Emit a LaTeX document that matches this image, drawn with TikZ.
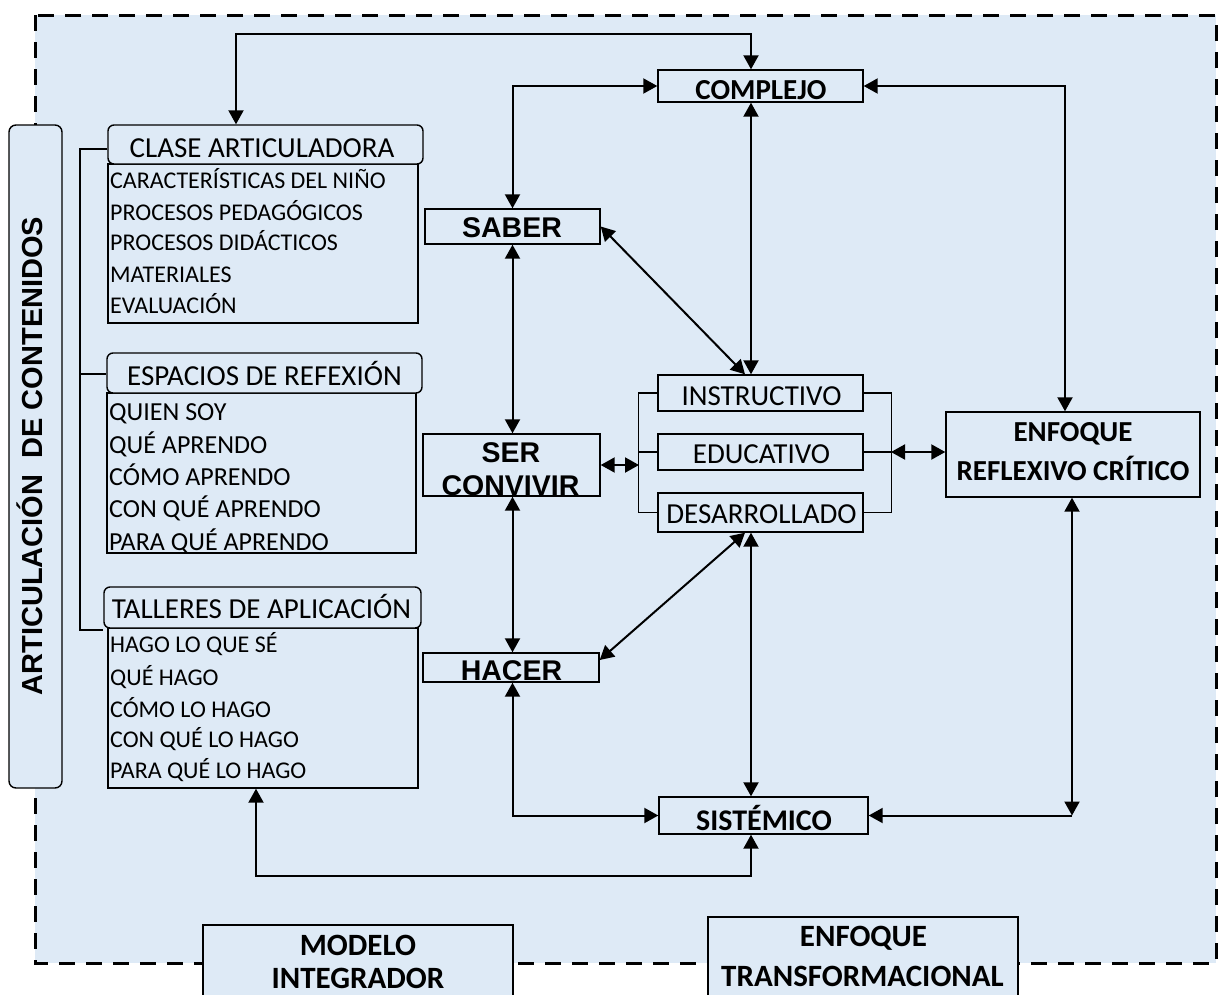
\documentclass[tikz,border=0pt]{standalone}
\usepackage{fontspec}
\setmainfont{Carlito}
\newfontfamily\arialf{Liberation Sans}
\usetikzlibrary{arrows.meta}
\definecolor{fondo}{RGB}{222,234,246}

\begin{document}
\begin{tikzpicture}[x=1pt, y=-1pt,
	>={Triangle[length=14pt,width=15pt]},
	caja/.style={draw, line width=1.4pt, fill=fondo, inner sep=0pt},
	cab/.style={caja, rounded corners=6pt},
	flecha/.style={<->, line width=2pt},
	linea/.style={line width=1.4pt},
	titulo/.style={anchor=base, inner sep=0pt, font={\fontsize{29}{34}\selectfont}},
	negrita/.style={anchor=base, inner sep=0pt, font={\bfseries\fontsize{29}{34}\selectfont}},
	grande/.style={anchor=base, inner sep=0pt, font={\bfseries\fontsize{31}{36}\selectfont}},
	arial/.style={anchor=base, inner sep=0pt, font={\arialf\bfseries\fontsize{28.5}{34}\selectfont}},
	lista/.style={anchor=base west, inner sep=0pt, font={\fontsize{24}{28}\selectfont}}]

	% 1. Fondo y borde punteado
	\useasboundingbox (0,0) rectangle (1218,994);
	\clip (0,0) rectangle (1218,994);
	\fill[fondo] (35,15) rectangle (1216,963);
	\draw[line width=3pt, dash pattern=on 16pt off 11pt] (35,15) rectangle (1216,963);

	% 2. Columna izquierda
	\node[caja, rounded corners=7pt, minimum width=53pt, minimum height=663pt] (ART) at (35.5,456.5) {};
	\node[anchor=base, rotate=90, inner sep=0pt, font={\arialf\bfseries\fontsize{29}{34}\selectfont}] (ARTt) at (42,456) {ARTICULACIÓN\ \ DE CONTENIDOS};

	% 3. Listas (clase, espacios, talleres)
	\node[caja, minimum width=310pt, minimum height=159pt] (CA) at (263,243.5) {};
	\node[cab, minimum width=315pt, minimum height=39pt] (CAh) at (265.5,144.5) {};
	\node[titulo] (CAt) at (262,157) {CLASE ARTICULADORA};
	\node[lista] (ca1) at (110,188) {CARACTERÍSTICAS DEL NIÑO};
	\node[lista] (ca2) at (110,220) {PROCESOS PEDAGÓGICOS};
	\node[lista] (ca3) at (110,250) {PROCESOS DIDÁCTICOS};
	\node[lista] (ca4) at (110,282) {MATERIALES};
	\node[lista] (ca5) at (110,313) {EVALUACIÓN};

	\node[caja, minimum width=309pt, minimum height=160pt] (ER) at (261.5,473) {};
	\node[cab, minimum width=315pt, minimum height=40pt] (ERh) at (264.5,373) {};
	\node[titulo] (ERt) at (264.5,385) {ESPACIOS DE REFEXIÓN};
	\node[lista, font={\fontsize{26}{30}\selectfont}] (er1) at (109,420) {QUIEN SOY};
	\node[lista, font={\fontsize{26}{30}\selectfont}] (er2) at (109,453) {QUÉ APRENDO};
	\node[lista, font={\fontsize{26}{30}\selectfont}] (er3) at (109,485) {CÓMO APRENDO};
	\node[lista, font={\fontsize{26}{30}\selectfont}] (er4) at (109,517) {CON QUÉ APRENDO};
	\node[lista, font={\fontsize{26}{30}\selectfont}] (er5) at (109,550) {PARA QUÉ APRENDO};

	\node[caja, minimum width=310pt, minimum height=160pt] (TA) at (263,708) {};
	\node[cab, minimum width=317pt, minimum height=41pt] (TAh) at (262.5,607.5) {};
	\node[titulo] (TAt) at (261.5,618) {TALLERES DE APLICACIÓN};
	\node[lista] (ta1) at (110,652) {HAGO LO QUE SÉ};
	\node[lista] (ta2) at (110,685) {QUÉ HAGO};
	\node[lista] (ta3) at (110,717) {CÓMO LO HAGO};
	\node[lista] (ta4) at (110,747) {CON QUÉ LO HAGO};
	\node[lista] (ta5) at (110,778) {PARA QUÉ LO HAGO};

	% llave de la izquierda
	\coordinate (b1) at (80,149);
	\coordinate (b2) at (80,374);
	\coordinate (b3) at (80,630);
	\draw[linea] (b1 -| CAh.west) -- (b1) -- (b3) -- (b3 -| TAh.west);
	\draw[linea] (b2) -- (b2 -| ERh.west);

	% 4. Saber, ser, hacer
	\node[caja, minimum width=175pt, minimum height=35pt] (SAB) at (512.5,226.5) {};
	\node[arial] (SABt) at (512,237) {SABER};
	\node[caja, minimum width=177pt, minimum height=62pt] (SER) at (511.5,465) {};
	\node[arial] (SERt1) at (511,462) {SER};
	\node[arial] (SERt2) at (510.5,495) {CONVIVIR};
	\node[caja, minimum width=176pt, minimum height=29pt] (HAC) at (511,667.5) {};
	\node[arial] (HACt) at (511.5,680) {HACER};

	% 5. Complejo, instructivo, educativo, desarrollado, sistemico
	\node[caja, minimum width=205pt, minimum height=32pt] (COM) at (760.5,86) {};
	\node[negrita] (COMt) at (761,99) {COMPLEJO};
	\node[caja, minimum width=205pt, minimum height=36pt] (INS) at (760.5,393) {};
	\node[titulo] (INSt) at (761.5,405) {INSTRUCTIVO};
	\node[caja, minimum width=205pt, minimum height=36pt] (EDU) at (760.5,452) {};
	\node[titulo] (EDUt) at (761.5,463) {EDUCATIVO};
	\node[caja, minimum width=205pt, minimum height=39pt] (DES) at (760.5,512.5) {};
	\node[titulo] (DESt) at (761.5,523) {DESARROLLADO};
	\node[caja, minimum width=209pt, minimum height=37pt] (SIS) at (763.5,815.5) {};
	\node[negrita, font={\bfseries\fontsize{30}{34}\selectfont}] (SISt) at (764,830) {SISTÉMICO};

	% llaves de los tres
	\draw[linea] (INS.west) -- ++(-19,0) |- (DES.west);
	\draw[linea] (EDU.west) -- ++(-19,0);
	\draw[linea] (INS.east) -- ++(28,0) |- (DES.east);
	\draw[linea] (EDU.east) -- ++(28,0);

	% 6. Enfoque reflexivo critico
	\node[caja, minimum width=254pt, minimum height=85pt] (ENF) at (1073,454.5) {};
	\node[negrita] (ENFt1) at (1073,441) {ENFOQUE};
	\node[negrita] (ENFt2) at (1073,480) {REFLEXIVO CRÍTICO};

	% 7. Cajas de abajo
	\node[caja, minimum width=310pt, minimum height=90pt] (MOD) at (358,970) {};
	\node[grande] (MODt1) at (358,955) {MODELO};
	\node[grande] (MODt2) at (358,988) {INTEGRADOR};
	\node[caja, minimum width=310pt, minimum height=98pt] (TRA) at (863,966) {};
	\node[grande] (TRAt1) at (863.5,946) {ENFOQUE};
	\node[grande] (TRAt2) at (862.5,986) {TRANSFORMACIONAL};

	% 8. Flechas
	\coordinate (c1) at (236,34);
	\coordinate (c2) at (751,34);
	\coordinate (c3) at (1065,86);
	\coordinate (c4) at (1072,815.5);
	\coordinate (c6) at (256,876);
	\coordinate (c7) at (751,876);
	\draw[flecha] (c1 |- CAh.north) -- (c1) -- (c2) -- (c2 |- COM.north);
	\draw[flecha] (COM.west) -| (SAB.north);
	\draw[flecha] (COM.east) -- (c3) -- (c3 |- ENF.north);
	\draw[flecha] (COM.south -| c2) -- (INS.north -| c2);
	\draw[flecha] (SAB.east) -- (INS.north -| 745,0);
	\draw[flecha] (SAB.south) -- (SAB.south |- SER.north);
	\draw[flecha] (SAB.south |- SER.south) -- (SAB.south |- HAC.north);
	\draw[flecha] (SER.east) -- (SER.east -| 639,0);
	\draw[flecha] (EDU.east -| 891,0) -- (EDU.east -| ENF.west);
	\draw[flecha] (HAC.east |- 0,660) -- (DES.south -| 745,0);
	\draw[flecha] (DES.south -| c2) -- (SIS.north -| c2);
	\draw[flecha] (SAB.south |- HAC.south) |- (SIS.west);
	\draw[flecha] (ENF.south -| c4) -- (c4);
	\draw[->, line width=2pt] (c4) -- (SIS.east);
	\draw[flecha] (c6 |- TA.south) -- (c6) -- (c7) -- (c7 |- SIS.south);

\end{tikzpicture}
\end{document}
